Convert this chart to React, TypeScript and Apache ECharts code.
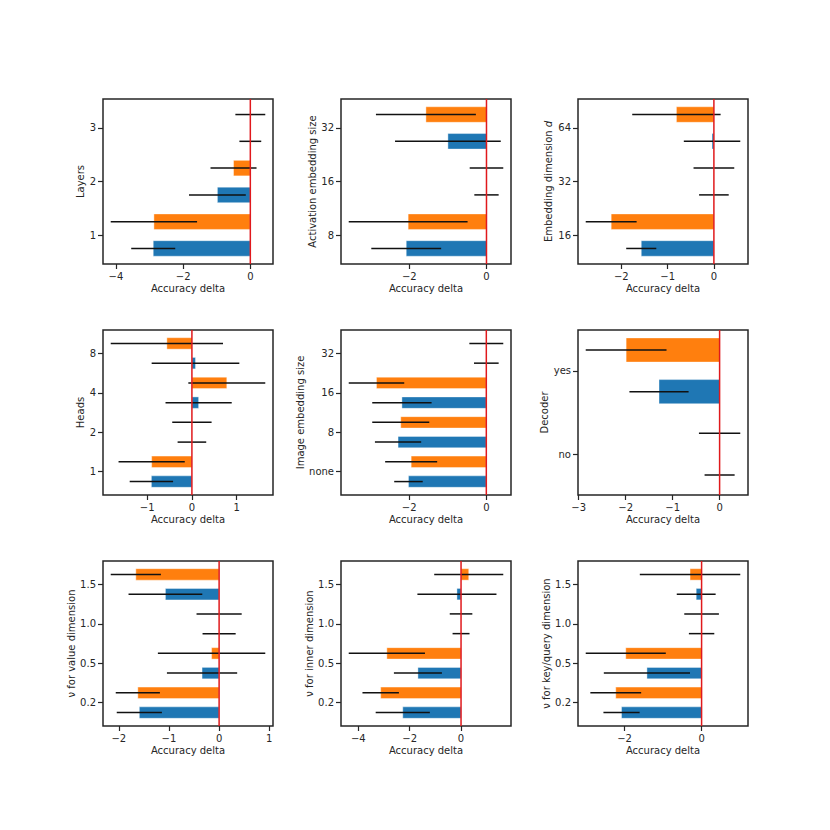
import React, { useEffect, useRef } from 'react';
import * as echarts from 'echarts';

// ---------- data ----------
const layersCats = ['1', '2', '3'];
const layersBlueMean = [-2.89, -0.98, 0];
const layersBlueErr = [0.655, 0.845, 0.325];
const layersOrangeMean = [-2.87, -0.5, 0];
const layersOrangeErr = [1.285, 0.685, 0.445];

const actCats = ['8', '16', '32'];
const actBlueMean = [-2.08, 0, -1.0];
const actBlueErr = [0.905, 0.315, 1.37];
const actOrangeMean = [-2.03, 0, -1.57];
const actOrangeErr = [1.54, 0.435, 1.295];

const embCats = ['16', '32', '64'];
const embBlueMean = [-1.57, 0, -0.04];
const embBlueErr = [0.325, 0.32, 0.61];
const embOrangeMean = [-2.22, 0, -0.81];
const embOrangeErr = [0.55, 0.44, 0.955];

const headsCats = ['1', '2', '4', '8'];
const headsBlueMean = [-0.906, 0, 0.15, 0.08];
const headsBlueErr = [0.485, 0.32, 0.74, 0.98];
const headsOrangeMean = [-0.9, 0, 0.78, -0.56];
const headsOrangeErr = [0.74, 0.44, 0.86, 1.255];

const imgCats = ['none', '8', '16', '32'];
const imgBlueMean = [-2.02, -2.29, -2.19, 0];
const imgBlueErr = [0.37, 0.6, 0.77, 0.32];
const imgOrangeMean = [-1.95, -2.22, -2.85, 0];
const imgOrangeErr = [0.675, 0.74, 0.72, 0.44];

const decCats = ['no', 'yes'];
const decBlueMean = [0, -1.29];
const decBlueErr = [0.32, 0.63];
const decOrangeMean = [0, -1.99];
const decOrangeErr = [0.44, 0.86];

const nuCats = ['0.2', '0.5', '1.0', '1.5'];
const valBlueMean = [-1.59, -0.34, 0, -1.07];
const valBlueErr = [0.45, 0.7, 0.33, 0.735];
const valOrangeMean = [-1.62, -0.15, 0, -1.66];
const valOrangeErr = [0.44, 1.07, 0.45, 0.5];

const innerBlueMean = [-2.27, -1.68, 0, -0.16];
const innerBlueErr = [1.055, 0.935, 0.33, 1.54];
const innerOrangeMean = [-3.13, -2.89, 0, 0.3];
const innerOrangeErr = [0.71, 1.485, 0.44, 1.345];

const kqBlueMean = [-2.08, -1.42, 0, -0.14];
const kqBlueErr = [0.47, 1.12, 0.33, 0.505];
const kqOrangeMean = [-2.23, -1.97, 0, -0.3];
const kqOrangeErr = [0.66, 1.04, 0.45, 1.305];

const ticks1 = [-4, -2, 0];
const ticks2 = [-2, 0];
const ticks3 = [-2, -1, 0];
const ticks4 = [-1, 0, 1];
const ticks5 = [-2, 0];
const ticks6 = [-3, -2, -1, 0];
const ticks7 = [-2, -1, 0, 1];
const ticks8 = [-4, -2, 0];
const ticks9 = [-2, 0];

// ---------- layout / style ----------
const COL_LEFT = [103, 341, 578];
const ROW_TOP = [99, 330, 561];
const W = 170;
const H = 165;
const BLUE = '#1f77b4';
const ORANGE = '#ff7f0e';
const INK = '#262626';
const FONT = 'DejaVu Sans';
const BAR_H = 0.58;
const MPL_H = 0.6;

const panels = [
  { name: 'Layers', cats: layersCats, bm: layersBlueMean, be: layersBlueErr, om: layersOrangeMean, oe: layersOrangeErr, ticks: ticks1, gap: 15.5 },
  { name: 'Activation embedding size', cats: actCats, bm: actBlueMean, be: actBlueErr, om: actOrangeMean, oe: actOrangeErr, ticks: ticks2, gap: 23 },
  { name: 'Embedding dimension {i|d}', cats: embCats, bm: embBlueMean, be: embBlueErr, om: embOrangeMean, oe: embOrangeErr, ticks: ticks3, gap: 24.5 },
  { name: 'Heads', cats: headsCats, bm: headsBlueMean, be: headsBlueErr, om: headsOrangeMean, oe: headsOrangeErr, ticks: ticks4, gap: 15.5 },
  { name: 'Image embedding size', cats: imgCats, bm: imgBlueMean, be: imgBlueErr, om: imgOrangeMean, oe: imgOrangeErr, ticks: ticks5, gap: 34.5 },
  { name: 'Decoder', cats: decCats, bm: decBlueMean, be: decBlueErr, om: decOrangeMean, oe: decOrangeErr, ticks: ticks6, gap: 27.5 },
  { name: 'ν for value dimension', cats: nuCats, bm: valBlueMean, be: valBlueErr, om: valOrangeMean, oe: valOrangeErr, ticks: ticks7, gap: 25.5 },
  { name: 'ν for inner dimension', cats: nuCats, bm: innerBlueMean, be: innerBlueErr, om: innerOrangeMean, oe: innerOrangeErr, ticks: ticks8, gap: 24.5 },
  { name: 'ν for key/query dimension', cats: nuCats, bm: kqBlueMean, be: kqBlueErr, om: kqOrangeMean, oe: kqOrangeErr, ticks: ticks9, gap: 23.5 },
];

const fmtNum = (v: number) => (v < 0 ? '\u2212' + String(Math.abs(v)) : String(v));

const barRender = (params: any, api: any) => {
  const mean = api.value(0);
  const slot = api.value(1);
  const err = api.value(2);
  const a = api.coord([0, slot]);
  const b = api.coord([mean, slot]);
  const h = api.size([0, BAR_H])[1];
  const lo = api.coord([mean - err, slot]);
  const hi = api.coord([mean + err, slot]);
  const children: any[] = [];
  const w = Math.abs(b[0] - a[0]);
  if (w > 0.01) {
    children.push({
      type: 'rect',
      shape: { x: Math.min(a[0], b[0]), y: a[1] - h / 2, width: w, height: h },
      style: { fill: api.visual('color'), stroke: 'rgba(255,255,255,0.4)', lineWidth: 1 },
    });
  }
  children.push({
    type: 'line',
    shape: { x1: lo[0], y1: lo[1], x2: hi[0], y2: hi[1] },
    style: { stroke: '#111', lineWidth: 1.5 },
  });
  return { type: 'group', children };
};

const zeroRender = (params: any, api: any) => {
  const cs = params.coordSys;
  const x = api.coord([0, api.value(1)])[0];
  return {
    type: 'line',
    shape: { x1: x, y1: cs.y, x2: x, y2: cs.y + cs.height },
    style: { stroke: '#e0191c', lineWidth: 1.5 },
  };
};

function buildOption() {
  const grid: any[] = [];
  const xAxis: any[] = [];
  const yAxis: any[] = [];
  const series: any[] = [];
  panels.forEach((p, i) => {
    const r = Math.floor(i / 3);
    const c = i % 3;
    grid.push({ left: COL_LEFT[c], top: ROW_TOP[r], width: W, height: H, show: true, borderColor: INK, borderWidth: 1.5, backgroundColor: 'transparent' });
    const n = p.cats.length;
    const nSlots = 2 * n;
    // matplotlib-like autoscale margins (5%)
    let lo = 0;
    let hi = 0;
    p.cats.forEach((_, k) => {
      lo = Math.min(lo, p.bm[k] - p.be[k], p.om[k] - p.oe[k], p.bm[k], p.om[k]);
      hi = Math.max(hi, p.bm[k] + p.be[k], p.om[k] + p.oe[k], p.bm[k], p.om[k]);
    });
    const pad = 0.05 * (hi - lo);
    const yr = nSlots - 1 + MPL_H;
    const yMin = -MPL_H / 2 - 0.05 * yr;
    const yMax = nSlots - 1 + MPL_H / 2 + 0.05 * yr;
    const yTickVals = p.cats.map((_, k) => 2 * k + 0.5);
    const cats = p.cats;
    xAxis.push({
      type: 'value', gridIndex: i, min: lo - pad, max: hi + pad, position: 'bottom',
      name: 'Accuracy delta', nameLocation: 'middle', nameGap: 19,
      nameTextStyle: { fontFamily: FONT, fontSize: 10, color: INK },
      axisLine: { show: false, onZero: false },
      axisTick: { show: true, inside: false, length: 5, lineStyle: { color: INK, width: 1.2 }, customValues: p.ticks },
      axisLabel: { show: true, margin: 7, fontFamily: FONT, fontSize: 10, color: INK, customValues: p.ticks, formatter: (v: number) => fmtNum(v) },
      splitLine: { show: false },
    });
    yAxis.push({
      type: 'value', gridIndex: i, min: yMin, max: yMax, position: 'left',
      name: p.name, nameLocation: 'middle', nameGap: p.gap,
      nameTextStyle: { fontFamily: FONT, fontSize: 10, color: INK, rich: { i: { fontStyle: 'italic', fontFamily: FONT, fontSize: 10, color: INK } } },
      axisLine: { show: false, onZero: false },
      axisTick: { show: true, inside: false, length: 5, lineStyle: { color: INK, width: 1.2 }, customValues: yTickVals },
      axisLabel: { show: true, margin: 7, fontFamily: FONT, fontSize: 10, color: INK, customValues: yTickVals, formatter: (v: number) => cats[Math.round((v - 0.5) / 2)] ?? '' },
      splitLine: { show: false },
    });
    series.push({
      type: 'custom', xAxisIndex: i, yAxisIndex: i, renderItem: barRender, z: 2,
      itemStyle: { color: BLUE }, encode: { x: 0, y: 1 },
      data: p.cats.map((_, k) => [p.bm[k], 2 * k, p.be[k]]),
    });
    series.push({
      type: 'custom', xAxisIndex: i, yAxisIndex: i, renderItem: barRender, z: 2,
      itemStyle: { color: ORANGE }, encode: { x: 0, y: 1 },
      data: p.cats.map((_, k) => [p.om[k], 2 * k + 1, p.oe[k]]),
    });
    series.push({
      type: 'custom', xAxisIndex: i, yAxisIndex: i, renderItem: zeroRender, z: 5,
      encode: { x: 0, y: 1 }, data: [[0, 0]],
    });
  });
  return { animation: false, backgroundColor: '#ffffff', grid, xAxis, yAxis, series };
}

export default function App() {
  const ref = useRef<HTMLDivElement>(null);
  useEffect(() => {
    if (!ref.current) return;
    const chart = echarts.init(ref.current, undefined, { renderer: 'svg' });
    chart.setOption(buildOption() as any);
    return () => chart.dispose();
  }, []);
  return <div ref={ref} style={{ position: 'absolute', left: 0, top: 0, width: 830, height: 830, background: '#fff' }} />;
}
